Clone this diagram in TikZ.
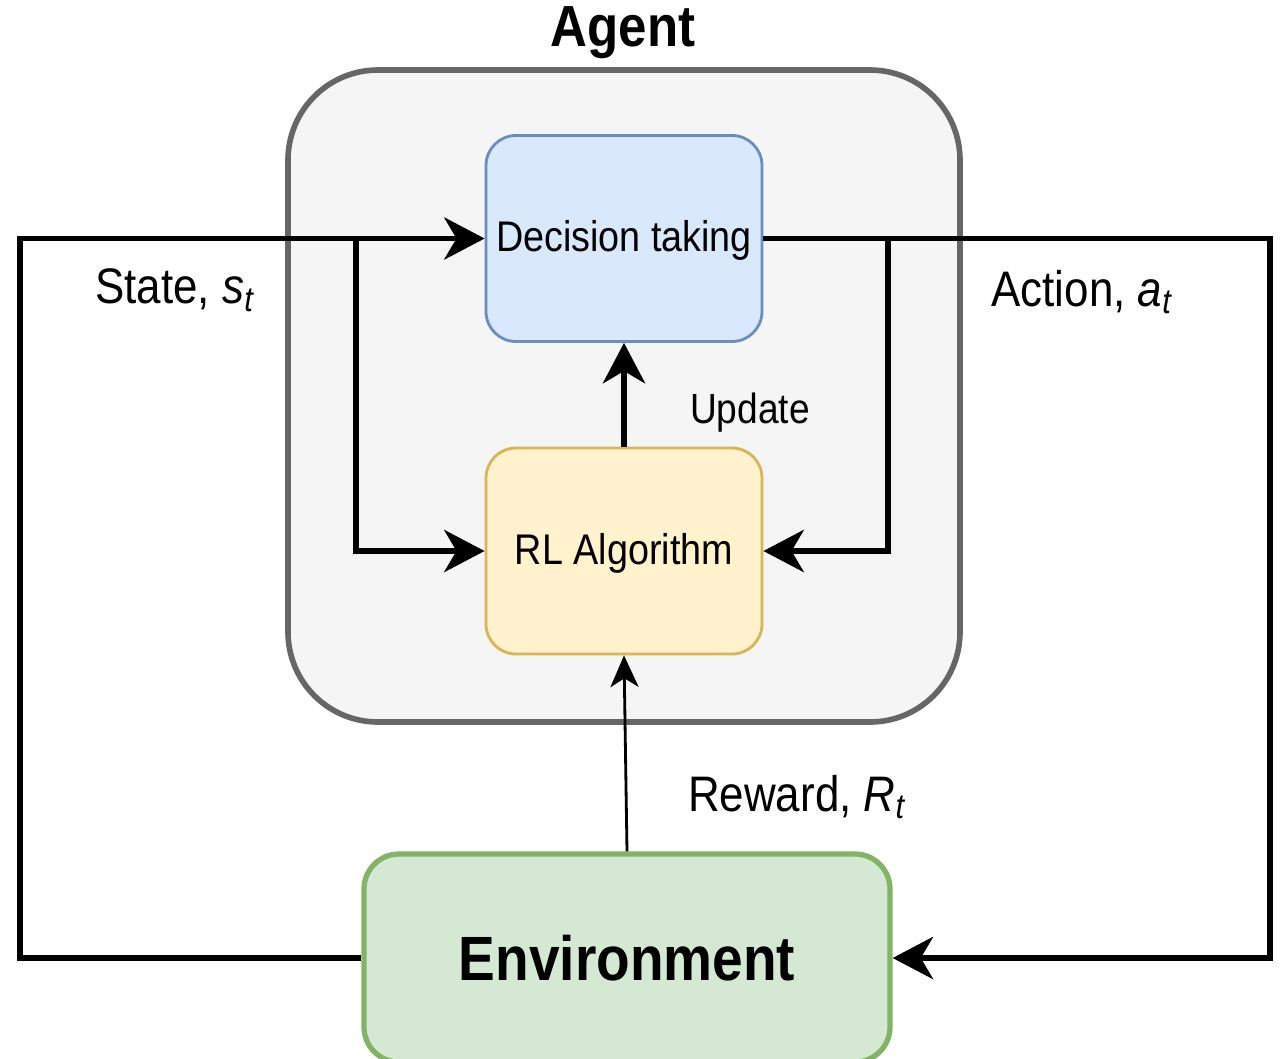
\documentclass[tikz,border=0pt]{standalone}
\usepackage{fontspec}
\setmainfont{Liberation Sans}[FakeStretch=0.88]
\usepackage{tikz}
\usetikzlibrary{
arrows.meta,
positioning,
calc
}
\definecolor{agentgray}{HTML}{666666}
\definecolor{agentfill}{HTML}{F5F5F5}
\definecolor{decblue}{HTML}{6C8EBF}
\definecolor{decfill}{HTML}{DAE8FC}
\definecolor{rlgold}{HTML}{D6B656}
\definecolor{rlfill}{HTML}{FFF2CC}
\definecolor{envgreen}{HTML}{82B366}
\definecolor{envfill}{HTML}{D5E8D4}

\begin{document}
\begin{tikzpicture}[
  flow/.style={line width=1.6pt, -{Stealth[length=11.5pt, width=12pt, inset=3.5pt]}},
  thinflow/.style={line width=0.8pt, -{Stealth[length=9pt, width=8pt, inset=2.5pt]}},
  block/.style={rounded corners=0.3cm, line width=0.8pt, minimum width=2.76cm, minimum height=2.06cm, inner sep=0pt, text depth=0.05cm, font=\fontsize{12.2}{14}\selectfont},
  lbl/.style={font=\fontsize{14.2}{16}\selectfont}
]
\useasboundingbox (0, 0) rectangle (12.81, -10.59);

% Agent frame
\node[draw=agentgray, fill=agentfill, line width=1.6pt, rounded corners=0.9cm, minimum width=6.72cm, minimum height=6.52cm] (agent) at (6.24, -3.96) {};
\node[font=\fontsize{16.5}{18}\selectfont\bfseries] (agentlbl) at (6.23, -0.33) {Agent};

% Inner blocks
\node[block, draw=decblue, fill=decfill] (dec) at (6.24, -2.385) {Decision taking};
\node[block, draw=rlgold, fill=rlfill] (rl) at (6.24, -5.51) {RL Algorithm};

% Environment
\node[draw=envgreen, fill=envfill, line width=1.5pt, rounded corners=0.35cm, minimum width=5.26cm, minimum height=2.08cm, inner sep=0pt, font=\fontsize{17.8}{20}\selectfont\bfseries] (env) at (6.27, -9.58) {Environment};

% Loop corners and branch points
\coordinate (sl) at (0.20, -2.385);
\coordinate (sb) at (3.56, -2.385);
\coordinate (sr) at (12.70, -2.385);
\coordinate (ab) at (8.88, -2.385);

% State path
\draw[flow] (env.west) -| (sl) -- (dec.west);
\draw[flow] (sb) |- (rl.west);

% Action path
\draw[flow] (dec.east) -- (sr) |- (env.east);
\draw[flow] (ab) |- (rl.east);

% Update and reward
\draw[flow] (rl.north) -- (dec.south);
\draw[thinflow] (env.north) -- (rl.south);

% Labels
\node[lbl] (state) at (1.75, -2.90) {State, \textit{s\textsubscript{t}}};
\node[lbl] (action) at (10.82, -2.92) {Action, \textit{a\textsubscript{t}}};
\node[font=\fontsize{12}{14}\selectfont] (update) at (7.50, -4.13) {Update};
\node[lbl] (reward) at (7.97, -7.97) {Reward, \textit{R\textsubscript{t}}};

\end{tikzpicture}
\end{document}
